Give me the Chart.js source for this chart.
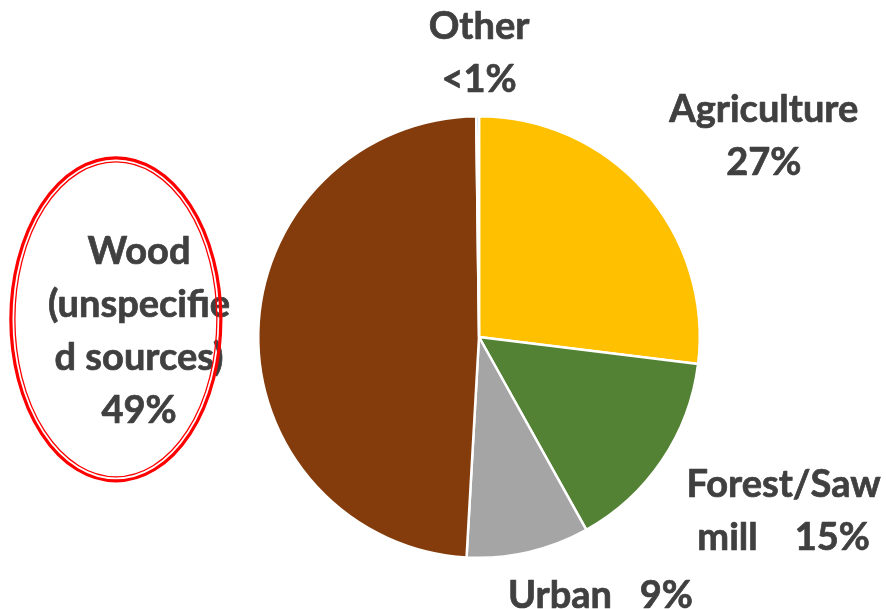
<!DOCTYPE html>
<html>
<head>
<meta charset="utf-8">
<script src="https://cdn.jsdelivr.net/npm/chart.js@4.4.0/dist/chart.umd.min.js"></script>
<style>
    html, body { margin: 0; padding: 0; background: #fff; }
    #wrap { width: 886px; height: 609px; position: relative; }
</style>
</head>
<body>
<div id="wrap"><canvas id="sourceChart" width="886" height="609"></canvas></div>
<script>
// 원천별 비율 (%)
const categories = ['Agriculture', 'Forest/Saw mill', 'Urban', 'Wood (unspecified sources)', 'Other'];
const shares = [27, 15, 9, 49, 0.2];
const sliceColors = ['#FFC000', '#548235', '#A5A5A5', '#843C0C', '#5B9BD5'];
const shareLabels = ['27%', '15%', '9%', '49%', '<1%'];

const TEXT_COLOR = '#404040';
const FONT = 'bold 38px Lato, "Open Sans", sans-serif';

// 라벨 배치 (파이 중심 기준, 반지름 단위)
const labelLayout = [
    { lines: ['Agriculture', shareLabels[0]], x: 1.29, y: -0.91 },
    { lines: ['Forest/Saw', 'mill    ' + shareLabels[1]], x: 1.38, y: 0.79 },
    { lines: ['Urban   ' + shareLabels[2]], x: 0.55, y: 1.17 },
    { lines: ['Wood', '(unspecifie', 'd sources)', shareLabels[3]], x: -1.54, y: -0.025 },
    { lines: ['Other', shareLabels[4]], x: 0.0, y: -1.285 }
];

const labelPlugin = {
    id: 'pieLabels',
    afterDraw(chart) {
        const arc = chart.getDatasetMeta(0).data[0];
        if (!arc) return;
        const cx = arc.x, cy = arc.y, r = arc.outerRadius;
        const ctx = chart.ctx;
        const lineH = 53;
        ctx.save();
        ctx.font = FONT;
        ctx.fillStyle = TEXT_COLOR;
        ctx.strokeStyle = TEXT_COLOR;
        ctx.lineWidth = 0.7;
        ctx.lineJoin = 'round';
        ctx.textAlign = 'center';
        ctx.textBaseline = 'middle';
        labelLayout.forEach(item => {
            const bx = cx + item.x * r;
            const by = cy + item.y * r;
            const top = by - (item.lines.length - 1) * lineH / 2;
            item.lines.forEach((line, i) => {
                ctx.fillText(line, bx, top + i * lineH);
                ctx.strokeText(line, bx, top + i * lineH);
            });
        });

        // 강조 타원 (이중선)
        const ex = cx - 1.645 * r, ey = cy - 0.08 * r;
        ctx.strokeStyle = '#FF0000';
        ctx.lineWidth = 3.2;
        ctx.beginPath();
        ctx.ellipse(ex, ey, 105, 161.5, 0, 0, Math.PI * 2);
        ctx.stroke();
        ctx.lineWidth = 1.3;
        ctx.beginPath();
        ctx.ellipse(ex, ey, 101, 157.5, 0, 0, Math.PI * 2);
        ctx.stroke();
        ctx.restore();
    }
};

document.addEventListener('DOMContentLoaded', function() {
    const ctx = document.getElementById('sourceChart');
    new Chart(ctx, {
        type: 'pie',
        data: {
            labels: categories,
            datasets: [{
                data: shares,
                backgroundColor: sliceColors,
                borderColor: '#FFFFFF',
                borderWidth: 2.5,
                hoverOffset: 0
            }]
        },
        options: {
            responsive: false,
            animation: false,
            layout: {
                padding: { top: 115, bottom: 50, left: 257, right: 185 }
            },
            plugins: {
                legend: { display: false },
                tooltip: { enabled: false }
            }
        },
        plugins: [labelPlugin]
    });
});
</script>
</body>
</html>
